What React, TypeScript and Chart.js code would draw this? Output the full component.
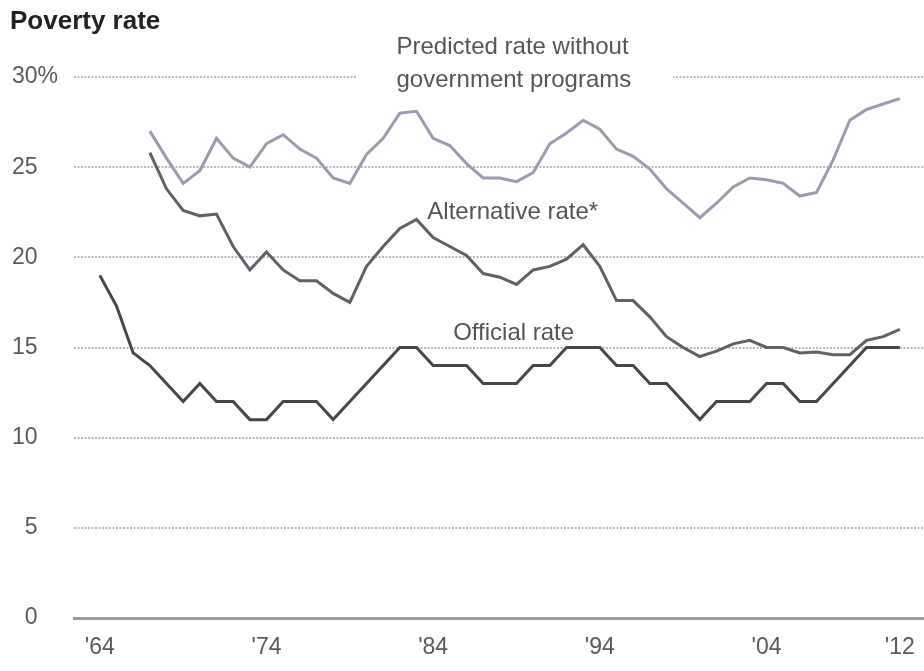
import React, { useEffect, useRef } from "react";
import { Chart, registerables } from "chart.js";

Chart.register(...registerables);

const years = [
  1964, 1965, 1966, 1967, 1968, 1969, 1970, 1971, 1972, 1973,
  1974, 1975, 1976, 1977, 1978, 1979, 1980, 1981, 1982, 1983,
  1984, 1985, 1986, 1987, 1988, 1989, 1990, 1991, 1992, 1993,
  1994, 1995, 1996, 1997, 1998, 1999, 2000, 2001, 2002, 2003,
  2004, 2005, 2006, 2007, 2008, 2009, 2010, 2011, 2012,
];

const officialRate = [
  19.0, 17.3, 14.7, 14.0, 13.0, 12.0, 13.0, 12.0, 12.0, 11.0,
  11.0, 12.0, 12.0, 12.0, 11.0, 12.0, 13.0, 14.0, 15.0, 15.0,
  14.0, 14.0, 14.0, 13.0, 13.0, 13.0, 14.0, 14.0, 15.0, 15.0,
  15.0, 14.0, 14.0, 13.0, 13.0, 12.0, 11.0, 12.0, 12.0, 12.0,
  13.0, 13.0, 12.0, 12.0, 13.0, 14.0, 15.0, 15.0, 15.0,
];

const alternativeRate = [
  null, null, null, 25.8, 23.8, 22.6, 22.3, 22.4, 20.6, 19.3,
  20.3, 19.3, 18.7, 18.7, 18.0, 17.5, 19.5, 20.6, 21.6, 22.1,
  21.1, 20.6, 20.1, 19.1, 18.9, 18.5, 19.3, 19.5, 19.9, 20.7,
  19.5, 17.6, 17.6, 16.7, 15.6, 15.0, 14.5, 14.8, 15.2, 15.4,
  15.0, 15.0, 14.7, 14.75, 14.6, 14.6, 15.4, 15.6, 16.0,
];

const predictedRate = [
  null, null, null, 27.0, 25.5, 24.1, 24.8, 26.6, 25.5, 25.0,
  26.3, 26.8, 26.0, 25.5, 24.4, 24.1, 25.7, 26.6, 28.0, 28.1,
  26.6, 26.2, 25.2, 24.4, 24.4, 24.2, 24.7, 26.3, 26.9, 27.6,
  27.1, 26.0, 25.6, 24.9, 23.8, 23.0, 22.2, 23.0, 23.9, 24.4,
  24.3, 24.1, 23.4, 23.6, 25.4, 27.6, 28.2, 28.5, 28.8,
];

const xTickYears = [1964, 1974, 1984, 1994, 2004, 2012];
const yTickValues = [0, 5, 10, 15, 20, 25, 30];

const FONT = "'Liberation Sans', Arial, sans-serif";

const annotations = [
  { text: "Predicted rate without", x: 1981.8, y: 31.65 },
  { text: "government programs", x: 1981.8, y: 29.8 },
  { text: "Alternative rate*", x: 1983.65, y: 22.5 },
  { text: "Official rate", x: 1985.2, y: 15.8 },
];

const labelPlugin = {
  id: "labelPlugin",
  beforeDatasetsDraw(chart: any) {
    const { ctx, scales } = chart;
    const xs = scales.x;
    const ys = scales.y;
    ctx.save();
    const bx0 = xs.getPixelForValue(1979.4);
    const bx1 = xs.getPixelForValue(1998.4);
    const by = ys.getPixelForValue(30);
    ctx.fillStyle = "#ffffff";
    ctx.fillRect(bx0, by - 4, bx1 - bx0, 8);
    ctx.font = `24px ${FONT}`;
    ctx.fillStyle = "#555555";
    ctx.textAlign = "left";
    ctx.textBaseline = "middle";
    annotations.forEach((a) => {
      ctx.fillText(a.text, xs.getPixelForValue(a.x), ys.getPixelForValue(a.y));
    });
    ctx.restore();
  },
  afterDraw(chart: any) {
    const { ctx } = chart;
    ctx.save();
    ctx.font = `bold 26px ${FONT}`;
    ctx.fillStyle = "#222222";
    ctx.textAlign = "left";
    ctx.textBaseline = "middle";
    ctx.fillText("Poverty rate", 10, 22);
    ctx.restore();
  },
};

export default function App() {
  const ref = useRef<HTMLCanvasElement | null>(null);

  useEffect(() => {
    if (!ref.current) return;
    const toPoints = (vals: (number | null)[]) =>
      years.map((yr, i) => ({ x: yr, y: vals[i] }));
    const chart = new Chart(ref.current, {
      type: "line",
      data: {
        datasets: [
          {
            label: "Predicted rate without government programs",
            data: toPoints(predictedRate) as any,
            borderColor: "#9b9aae",
            borderWidth: 3,
            pointRadius: 0,
            tension: 0,
          },
          {
            label: "Alternative rate*",
            data: toPoints(alternativeRate) as any,
            borderColor: "#645e68",
            borderWidth: 3,
            pointRadius: 0,
            tension: 0,
          },
          {
            label: "Official rate",
            data: toPoints(officialRate) as any,
            borderColor: "#4a4548",
            borderWidth: 3,
            pointRadius: 0,
            tension: 0,
          },
        ],
      },
      options: {
        animation: false,
        responsive: false,
        devicePixelRatio: 1,
        layout: { padding: { left: 12, top: 77, right: 0, bottom: 0 } },
        plugins: {
          legend: { display: false },
          tooltip: { enabled: false },
        },
        scales: {
          x: {
            type: "linear",
            min: 1962.45,
            max: 2013.45,
            afterBuildTicks: (s: any) => {
              s.ticks = xTickYears.map((v) => ({ value: v }));
            },
            afterFit: (s: any) => {
              s.height = 53;
              s.paddingLeft = 0;
              s.paddingRight = 0;
            },
            grid: { display: false, drawTicks: false },
            border: { display: true, color: "#9a9a9a", width: 3 },
            ticks: {
              autoSkip: false,
              maxRotation: 0,
              padding: 16,
              color: "#5a5a5a",
              font: { family: FONT, size: 23 },
              callback: (v: any) => "'" + String(v).slice(2),
            },
          },
          y: {
            min: 0,
            max: 30,
            afterBuildTicks: (s: any) => {
              s.ticks = yTickValues.map((v) => ({ value: v }));
            },
            afterFit: (s: any) => {
              s.width = 62;
            },
            border: { display: false, dash: [2, 1.5] },
            grid: {
              drawTicks: false,
              lineWidth: 2,
              color: (c: any) => (c.tick && c.tick.value === 0 ? "rgba(0,0,0,0)" : "#b8b8b8"),
            },
            ticks: {
              crossAlign: "far",
              padding: 0,
              color: "#5a5a5a",
              font: { family: FONT, size: 23 },
              callback: (v: any) => (v === 30 ? "30%" : v < 10 ? "\u2007" + v : String(v)),
            },
          },
        },
      },
      plugins: [labelPlugin],
    } as any);
    return () => chart.destroy();
  }, []);

  return (
    <div style={{ position: "fixed", left: 0, top: 0, width: 924, height: 671, background: "#fff" }}>
      <canvas ref={ref} width={924} height={671} style={{ display: "block" }} />
    </div>
  );
}
